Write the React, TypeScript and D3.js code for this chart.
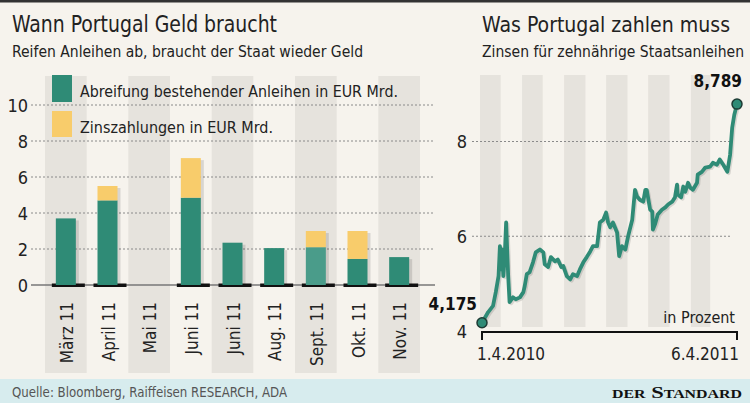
import React from "react";
import * as d3 from "d3";

// ---------- Data ----------
const categories = ["März 11", "April 11", "Mai 11", "Juni 11", "Juni 11", "Aug. 11", "Sept. 11", "Okt. 11", "Nov. 11"];
const redemptions = [3.7, 4.7, 0, 4.85, 2.35, 2.05, 2.1, 1.45, 1.55];
const interest = [0, 0.8, 0, 2.2, 0, 0, 0.9, 1.55, 0];
const leftTicks = [0, 2, 4, 6, 8, 10];
const legendLabels = ["Abreifung bestehender Anleihen in EUR Mrd.", "Zinszahlungen in EUR Mrd."];

const yieldDates = [
  "2010-04-01", "2010-04-10", "2010-04-17", "2010-04-21", "2010-04-25", "2010-04-27", "2010-04-29", "2010-04-30",
  "2010-05-02", "2010-05-04", "2010-05-06", "2010-05-09", "2010-05-11", "2010-05-16", "2010-05-20", "2010-05-26",
  "2010-05-31", "2010-06-02", "2010-06-05", "2010-06-09", "2010-06-14", "2010-06-18", "2010-06-24", "2010-06-29",
  "2010-07-01", "2010-07-06", "2010-07-10", "2010-07-16", "2010-07-20", "2010-07-25", "2010-07-28", "2010-08-02",
  "2010-08-07", "2010-08-11", "2010-08-17", "2010-08-21", "2010-08-26", "2010-08-31", "2010-09-05", "2010-09-09",
  "2010-09-15", "2010-09-19", "2010-09-24", "2010-09-28", "2010-10-01", "2010-10-04", "2010-10-08", "2010-10-14",
  "2010-10-17", "2010-10-21", "2010-10-26", "2010-10-30", "2010-11-05", "2010-11-09", "2010-11-12", "2010-11-16",
  "2010-11-21", "2010-11-24", "2010-11-26", "2010-12-01", "2010-12-04", "2010-12-05", "2010-12-08", "2010-12-12",
  "2010-12-18", "2010-12-23", "2010-12-27", "2011-01-02", "2011-01-06", "2011-01-09", "2011-01-10", "2011-01-15",
  "2011-01-18", "2011-01-21", "2011-01-25", "2011-01-28", "2011-02-01", "2011-02-07", "2011-02-08", "2011-02-14",
  "2011-02-19", "2011-02-26", "2011-03-02", "2011-03-08", "2011-03-12", "2011-03-17", "2011-03-23", "2011-03-27",
  "2011-03-30", "2011-04-02", "2011-04-06",
];
const yieldValues = [
  4.175, 4.4, 4.53, 4.82, 5.16, 5.79, 5.3, 5.72,
  5.16, 5.58, 6.29, 5.16, 4.61, 4.71, 4.67, 4.71,
  4.82, 4.95, 5.2, 5.24, 5.45, 5.66, 5.72, 5.66,
  5.41, 5.35, 5.56, 5.47, 5.51, 5.35, 5.37, 5.16,
  5.09, 5.2, 5.16, 5.3, 5.45, 5.56, 5.68, 5.79,
  5.79, 6.29, 6.35, 6.5, 6.29, 6.19, 6.29, 6.08,
  5.58, 5.79, 5.72, 6.0, 6.35, 6.98, 6.84, 6.77,
  6.73, 6.98, 6.98, 6.56, 6.52, 6.14, 6.25, 6.46,
  6.56, 6.61, 6.67, 6.73, 6.82, 7.09, 6.88, 6.82,
  7.05, 6.94, 7.13, 7.03, 6.98, 7.13, 7.3, 7.36,
  7.45, 7.47, 7.55, 7.51, 7.62, 7.51, 7.36, 7.72,
  8.29, 8.56, 8.789,
];
const rightTicks = [4, 6, 8];
const bandMonths = ["2010-04-01", "2010-06-01", "2010-08-01", "2010-10-01", "2010-12-01", "2011-02-01"];
const startLabel = "4,175";
const endLabel = "8,789";

// ---------- Styles ----------
const FONT = "'Liberation Sans Narrow', 'DejaVu Sans Condensed', 'Roboto Condensed', 'Open Sans', sans-serif";
const GREEN = "#2f8b76";
const YELLOW = "#f8cc6b";
const BG = "#f6f3ed";
const BAND = "#e6e3dd";
const INK = "#222";

export default function App() {
  // Left chart scales
  const xL = d3.scaleBand<number>().domain(categories.map((_, i) => i)).range([45, 420]).paddingInner(0).paddingOuter(0);
  const yL = d3.scaleLinear().domain([0, 10]).range([285, 105]);
  const barW = 20;

  // Right chart scales
  const parse = d3.timeParse("%Y-%m-%d");
  const dates = yieldDates.map((d) => parse(d) as Date);
  const xR = d3.scaleTime().domain([parse("2010-04-01") as Date, parse("2011-04-06") as Date]).range([482, 737]);
  const yR = d3.scaleLinear().domain([4, 8]).range([331, 141.5]);
  const line = d3
    .line<number>()
    .x((_, i) => xR(dates[i]))
    .y((v) => yR(v));
  const pathD = line(yieldValues) || "";
  const first = { x: xR(dates[0]), y: yR(yieldValues[0]) };
  const last = { x: xR(dates[dates.length - 1]), y: yR(yieldValues[yieldValues.length - 1]) };

  return (
    <svg width={750} height={403} style={{ position: "absolute", left: 0, top: 0 }} fontFamily={FONT}>
      <rect x={0} y={0} width={750} height={403} fill={BG} />
      <rect x={0} y={0} width={750} height={2.5} fill="#333" />

      {/* Left chart: bands */}
      {categories.map((_, i) =>
        i % 2 === 0 ? (
          <rect key={"lb" + i} x={xL(i)} y={76} width={xL.bandwidth()} height={373 - 76} fill={BAND} />
        ) : null
      )}

      {/* Titles */}
      <text x={12} y={32} fontSize={23} fill={INK} textLength={265} lengthAdjust="spacingAndGlyphs">Wann Portugal Geld braucht</text>
      <text x={12} y={57} fontSize={16} fill={INK} textLength={351} lengthAdjust="spacingAndGlyphs">Reifen Anleihen ab, braucht der Staat wieder Geld</text>
      <text x={482} y={32} fontSize={22} fill={INK} textLength={248} lengthAdjust="spacingAndGlyphs">Was Portugal zahlen muss</text>
      <text x={482} y={57} fontSize={15} fill={INK} textLength={262} lengthAdjust="spacingAndGlyphs">Zinsen für zehnährige Staatsanleihen</text>

      {/* Left gridlines */}
      {leftTicks.filter((t) => t > 0).map((t) => (
        <line key={"lg" + t} x1={31} x2={435} y1={yL(t)} y2={yL(t)} stroke="#8a8a8a" strokeWidth={1} strokeDasharray="2,2" />
      ))}
      {leftTicks.map((t) => (
        <text key={"lt" + t} x={28} y={yL(t)} fontSize={18} fill={INK} textAnchor="end" dominantBaseline="central">{t}</text>
      ))}
      <line x1={31} x2={435} y1={yL(0)} y2={yL(0)} stroke="#777" strokeWidth={1.5} />

      {/* Legend */}
      <rect x={52} y={75} width={20} height={27} fill={GREEN} />
      <rect x={52} y={111} width={20} height={26} fill={YELLOW} />
      <text x={80} y={97} fontSize={16.5} fill={INK} textLength={318} lengthAdjust="spacingAndGlyphs">{legendLabels[0]}</text>
      <text x={80} y={133} fontSize={16.5} fill={INK} textLength={193} lengthAdjust="spacingAndGlyphs">{legendLabels[1]}</text>

      {/* Bars */}
      {categories.map((_, i) => {
        const cx = (xL(i) as number) + xL.bandwidth() / 2;
        const x0 = cx - barW / 2;
        const r = redemptions[i];
        const z = interest[i];
        if (r + z <= 0) return null;
        return (
          <g key={"bar" + i}>
            <rect x={x0 - 4} y={yL(0) - 1.5} width={barW + 13} height={3.5} fill="#111" />
            <rect x={x0 + 3} y={yL(r + z) + 2} width={barW} height={yL(0) - yL(r + z) - 2} fill="rgba(0,0,0,0.12)" />
            <rect x={x0} y={yL(r)} width={barW} height={yL(0) - yL(r)} fill={i === 6 ? "#4a9c8a" : GREEN} />
            {z > 0 && <rect x={x0} y={yL(r + z)} width={barW} height={yL(r) - yL(r + z)} fill={YELLOW} />}
          </g>
        );
      })}

      {/* Left x labels */}
      {categories.map((c, i) => {
        const cx = (xL(i) as number) + xL.bandwidth() / 2;
        return (
          <text key={"xl" + i} transform={`translate(${cx + 1},302) rotate(-90)`} fontSize={17} fill={INK} textAnchor="end" dominantBaseline="central">{c}</text>
        );
      })}

      {/* Right chart bands */}
      {bandMonths.map((m) => {
        const s = parse(m) as Date;
        const e = d3.timeMonth.offset(s, 1);
        return <rect key={"rb" + m} x={xR(s) - 2} y={75} width={xR(e) - xR(s)} height={327 - 75} fill={BAND} />;
      })}

      {/* Right gridlines */}
      {rightTicks.filter((t) => t > 4).map((t) => (
        <line key={"rg" + t} x1={472} x2={732} y1={yR(t)} y2={yR(t)} stroke="#8a8a8a" strokeWidth={1} strokeDasharray="2,2" />
      ))}
      {rightTicks.map((t) => (
        <text key={"rt" + t} x={467} y={yR(t)} fontSize={18} fill={INK} textAnchor="end" dominantBaseline="central">{t}</text>
      ))}

      {/* Axis bracket */}
      <path d={`M${xR.range()[0]},${yR(4) + 9}V${yR(4) + 1}H${xR.range()[1]}V${yR(4) + 9}`} fill="none" stroke="#111" strokeWidth={2} />
      <text x={477} y={360} fontSize={17} fill={INK}>1.4.2010</text>
      <text x={739} y={360} fontSize={17} fill={INK} textAnchor="end">6.4.2011</text>
      <text x={735} y={323} fontSize={16} fill={INK} textAnchor="end">in Prozent</text>

      {/* Line */}
      <path d={pathD} fill="none" stroke="rgba(0,0,0,0.12)" strokeWidth={3.5} strokeLinejoin="round" transform="translate(1.5,1.5)" />
      <path d={pathD} fill="none" stroke={GREEN} strokeWidth={3.8} strokeLinejoin="round" strokeLinecap="round" />
      <circle cx={first.x} cy={first.y} r={5} fill={GREEN} stroke="#1d3b34" strokeWidth={1.5} />
      <circle cx={last.x} cy={last.y} r={5} fill={GREEN} stroke="#1d3b34" strokeWidth={1.5} />
      <text x={477} y={310} fontSize={17} fontWeight="bold" fill="#111" textAnchor="end">{startLabel}</text>
      <text x={742} y={87} fontSize={17} fontWeight="bold" fill="#111" textAnchor="end">{endLabel}</text>

      {/* Footer */}
      <rect x={0} y={379} width={750} height={24} fill="#d7ecee" />
      <text x={12} y={397} fontSize={13.5} fill="#555" textLength={275} lengthAdjust="spacingAndGlyphs">Quelle: Bloomberg, Raiffeisen RESEARCH, ADA</text>
      <text x={742} y={398} fontSize={17} fontWeight="bold" fill="#111" textAnchor="end" fontFamily="'Liberation Serif', 'DejaVu Serif', serif" style={{ fontVariant: "small-caps" }} textLength={130} lengthAdjust="spacingAndGlyphs">der Standard</text>
    </svg>
  );
}
